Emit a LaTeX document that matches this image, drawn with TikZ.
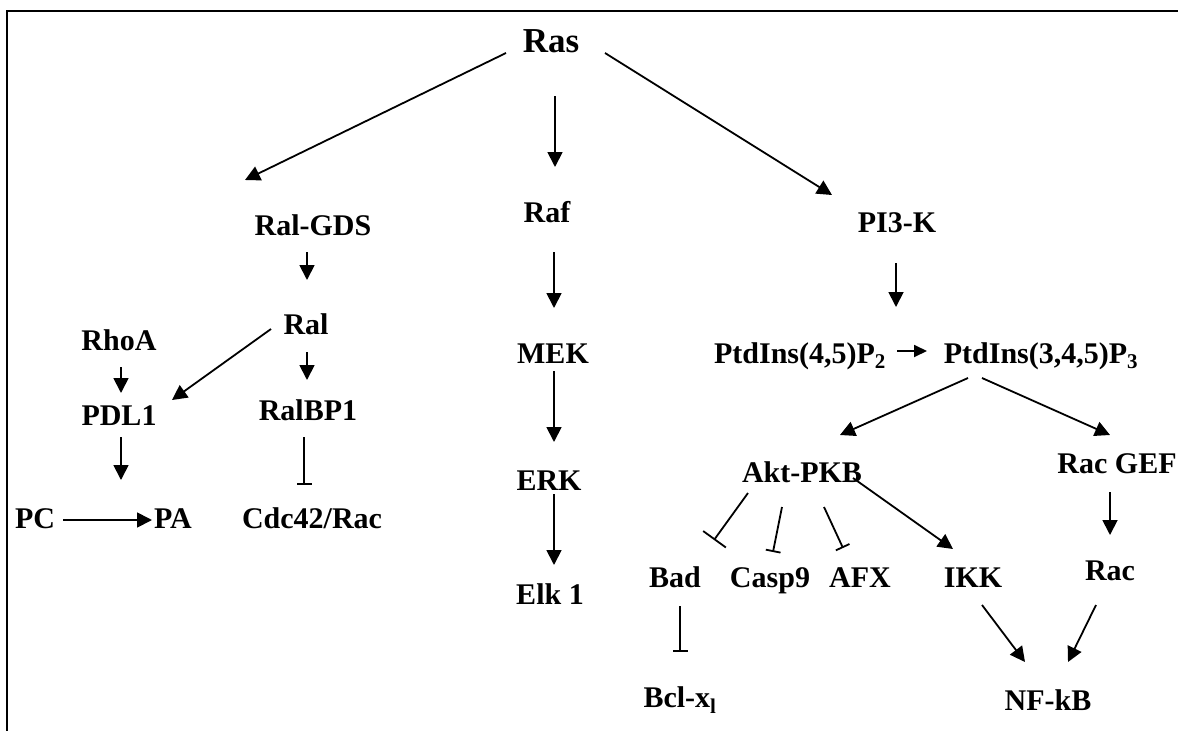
\documentclass[tikz,border=0pt]{standalone}
\usepackage{fontspec}
\setmainfont{Liberation Serif}
\usetikzlibrary{arrows.meta}
\begin{document}
\begin{tikzpicture}[x=1pt,y=-1pt,
  lbl/.style={font=\bfseries\fontsize{30}{36}\selectfont, inner sep=0pt, anchor=base},
  big/.style={font=\bfseries\fontsize{35}{42}\selectfont, inner sep=0pt, anchor=base},
  act/.style={line width=1.8pt, -{Triangle[length=15pt,width=15pt]}},
  inh/.style={line width=1.8pt, -{Bar[width=15pt]}},
  frameline/.style={line width=2.2pt}]
\useasboundingbox (0,0) rectangle (1178,731);
\coordinate (ftl) at (7,11);
\coordinate (ftr) at (1178,11);
\coordinate (fbl) at (7,731);
\draw[frameline] (ftr) -- (ftl) -- (fbl);

% nodes
\node[big] (ras) at (551,52) {Ras};
\node[lbl] (ralgds) at (313,235) {Ral-GDS};
\node[lbl] (raf) at (547,222) {Raf};
\node[lbl] (pi3k) at (897,232) {PI3-K};
\node[lbl] (ral) at (306,334) {Ral};
\node[lbl] (rhoa) at (119,350) {RhoA};
\node[lbl] (mek) at (553,363) {MEK};
\node[lbl] (p2) at (800,363) {PtdIns(4,5)P\textsubscript{2}};
\node[lbl] (p3) at (1041,363) {PtdIns(3,4,5)P\textsubscript{3}};
\node[lbl] (pdl1) at (119,425) {PDL1};
\node[lbl] (ralbp1) at (308,420) {RalBP1};
\node[lbl] (pc) at (35,528) {PC};
\node[lbl] (pa) at (173,528) {PA};
\node[lbl] (cdc) at (312,528) {Cdc42/Rac};
\node[lbl] (erk) at (549,490) {ERK};
\node[lbl] (akt) at (802,482) {Akt-PKB};
\node[lbl] (racgef) at (1117,473) {Rac GEF};
\node[lbl] (elk) at (550,604) {Elk 1};
\node[lbl] (bad) at (675,587) {Bad};
\node[lbl] (casp) at (770,587) {Casp9};
\node[lbl] (afx) at (860,587) {AFX};
\node[lbl] (ikk) at (973,587) {IKK};
\node[lbl] (rac) at (1110,580) {Rac};
\node[lbl] (bcl) at (680,707) {Bcl-x\textsubscript{l}};
\node[lbl] (nfkb) at (1048,710) {NF-kB};

% connectors
\draw[act] ([shift={(-45,1)}]ras.base) -- ([shift={(-68,-55)}]ralgds.base);
\draw[act] ([shift={(4,44)}]ras.base) -- ([shift={(8,-55)}]raf.base);
\draw[act] ([shift={(54,1)}]ras.base) -- ([shift={(-65,-37)}]pi3k.base);
\draw[act] ([shift={(-6,17)}]ralgds.base) -- ([shift={(1,-54)}]ral.base);
\draw[act] ([shift={(-35,-5)}]ral.base) -- ([shift={(53,-25)}]pdl1.base);
\draw[act] ([shift={(1,18)}]ral.base) -- ([shift={(-1,-40)}]ralbp1.base);
\draw[act] ([shift={(2,17)}]rhoa.base) -- ([shift={(2,-32)}]pdl1.base);
\draw[act] ([shift={(2,12)}]pdl1.base) -- ([shift={(-52,-48)}]pa.base);
\draw[act] ([shift={(28,-8)}]pc.base) -- ([shift={(-21,-8)}]pa.base);
\draw[inh] ([shift={(-4,17)}]ralbp1.base) -- ([shift={(-8,-43)}]cdc.base);
\draw[act] ([shift={(7,30)}]raf.base) -- ([shift={(1,-55)}]mek.base);
\draw[act] ([shift={(1,8)}]mek.base) -- ([shift={(5,-48)}]erk.base);
\draw[act] ([shift={(5,4)}]erk.base) -- ([shift={(4,-39)}]elk.base);
\draw[act] ([shift={(-1,31)}]pi3k.base) -- ([shift={(96,-56)}]p2.base);
\draw[line width=1.8pt, -{Triangle[length=13pt,width=12pt]}] ([shift={(97,-12)}]p2.base) -- ([shift={(-114,-12)}]p3.base);
\draw[act] ([shift={(-73,15)}]p3.base) -- ([shift={(38,-47)}]akt.base);
\draw[act] ([shift={(-59,15)}]p3.base) -- ([shift={(-7,-38)}]racgef.base);
\draw[line width=1.8pt, -{Bar[width=28pt]}] ([shift={(-54,11)}]akt.base) -- ([shift={(39,-47)}]bad.base);
\draw[inh] ([shift={(-20,25)}]akt.base) -- ([shift={(3,-35)}]casp.base);
\draw[inh] ([shift={(22,25)}]akt.base) -- ([shift={(-17,-39)}]afx.base);
\draw[act] ([shift={(51,-4)}]akt.base) -- ([shift={(-20,-38)}]ikk.base);
\draw[act] ([shift={(-7,19)}]racgef.base) -- ([shift={(0,-45)}]rac.base);
\draw[inh] ([shift={(5,19)}]bad.base) -- ([shift={(0,-55)}]bcl.base);
\draw[act] ([shift={(9,18)}]ikk.base) -- ([shift={(-23,-48)}]nfkb.base);
\draw[act] ([shift={(-14,25)}]rac.base) -- ([shift={(20,-48)}]nfkb.base);
\end{tikzpicture}
\end{document}
